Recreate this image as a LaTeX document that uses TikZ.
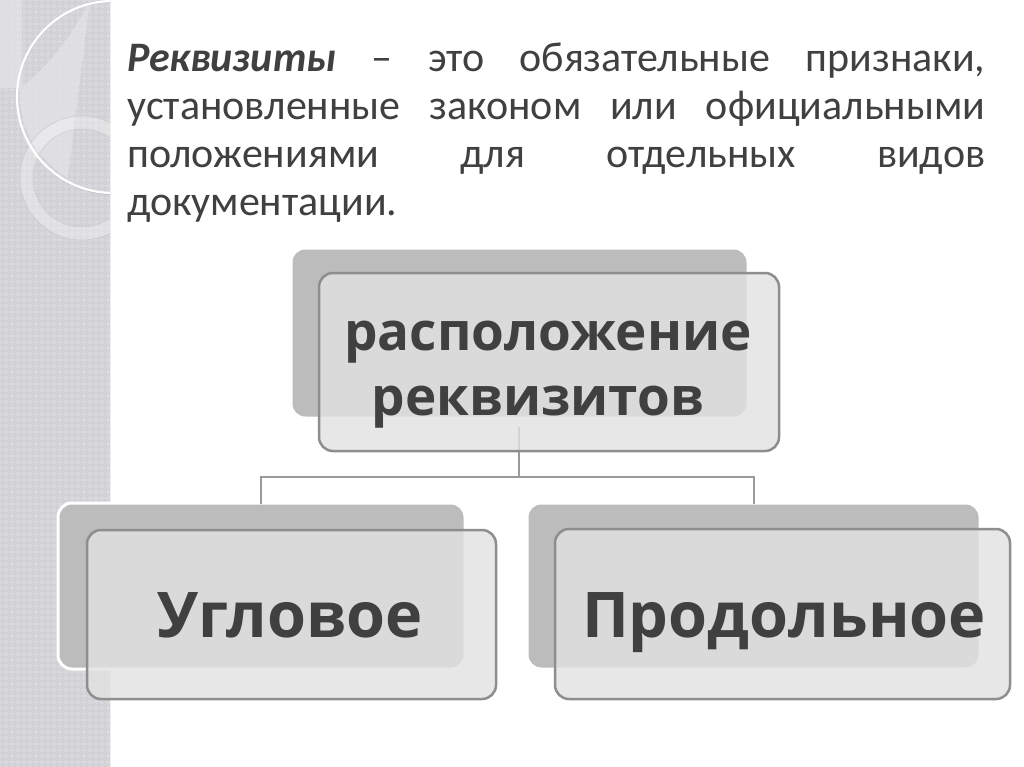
\documentclass[tikz,border=0pt]{standalone}
\usepackage{fontspec}
\setmainfont{Carlito}
\newfontfamily\boxfont{Open Sans}
\definecolor{strip}{HTML}{D8D8DC}
\definecolor{stripdot}{HTML}{CACACE}
\definecolor{striplight}{HTML}{E4E4E7}
\definecolor{txt}{HTML}{404040}
\definecolor{shade}{HTML}{BCBCBC}
\definecolor{front}{HTML}{E2E2E2}
\definecolor{edge}{HTML}{8E8E8E}
\definecolor{conn}{HTML}{9A9A9A}
\tikzset{
  shadowbox/.style={draw=white, line width=3pt, fill=shade, rounded corners=14pt, inner sep=0pt},
  frontbox/.style={draw=edge, line width=2.5pt, fill=front, fill opacity=0.8, rounded corners=14pt, inner sep=0pt},
  boxtext/.style={text=txt, inner sep=0pt, anchor=base, font=\boxfont\bfseries},
  bodyline/.style={text=txt, inner sep=0pt, anchor=base west, font=\fontsize{42}{48}\selectfont},
  connline/.style={draw=conn, line width=2pt},
}
\begin{document}
\begin{tikzpicture}[x=1pt,y=-1pt]
\useasboundingbox (0,0) rectangle (1024,767);
\fill[white] (0,0) rectangle (1024,767);
% left decorative strip
\begin{scope}
\clip (0,0) rectangle (110,767);
\fill[strip] (0,0) rectangle (110,767);
\foreach \i in {0,...,18}{\foreach \j in {0,...,128}{
  \draw[stripdot, line width=0.5pt] (3+\i*6,3+\j*6) circle (1.8);}}
% lighter upper area
\fill[striplight, opacity=0.7] (0,0) rectangle (22,88);
\fill[striplight, opacity=0.7] (90,0) .. controls (70,40) and (45,70) .. (20,88)
   arc[start angle=184, end angle=120, radius=96] -- cycle;
% ring
\fill[even odd rule, fill=white, fill opacity=0.3] (82,178) circle (62) (82,178) circle (49);
\draw[gray!40, line width=0.6pt] (82,178) circle (62) (82,178) circle (49);
% big circle
\draw[gray!50, line width=1pt] (114,98) circle (96.5);
\draw[white, line width=2.2pt] (113,97) circle (96);
\draw[stripdot!80!black, line width=0.6pt] (110.5,0) -- (110.5,767);
\end{scope}
% body text
\node[bodyline] (l1) at (127,72) {\makebox[858pt][s]{\textbf{\textit{Реквизиты}} – это обязательные признаки,}};
\node[bodyline] (l2) at (127,120) {\makebox[858pt][s]{установленные законом или официальными}};
\node[bodyline] (l3) at (127,168) {\makebox[858pt][s]{положениями для отдельных видов}};
\node[bodyline] (l4) at (127,216) {документации.};
% shadow boxes
\node[shadowbox, minimum width=457pt, minimum height=170pt] (topsh) at (519.5,333) {};
\node[shadowbox, minimum width=407pt, minimum height=166pt] (leftsh) at (261.5,586) {};
\node[shadowbox, minimum width=453pt, minimum height=166pt] (rightsh) at (753.5,586) {};
% connectors
\coordinate (c0) at (519,427);
\coordinate (jn) at (519,477);
\coordinate (la) at (261,504);
\coordinate (ra) at (754,504);
\draw[connline] (c0) -- (jn);
\draw[connline] (la) |- (jn) -| (ra);
% front boxes
\node[frontbox, minimum width=460pt, minimum height=178pt] (top) at (549,362) {};
\node[frontbox, minimum width=409pt, minimum height=169pt] (left) at (291.5,614.5) {};
\node[frontbox, minimum width=455pt, minimum height=170pt] (right) at (782.5,614) {};
% box texts
\node[boxtext, font=\boxfont\bfseries\fontsize{53}{64}\selectfont] (t1) at (548,350) {расположение};
\node[boxtext, font=\boxfont\bfseries\fontsize{53}{64}\selectfont] (t2) at (538,415) {реквизитов};
\node[boxtext, font=\boxfont\bfseries\fontsize{63}{72}\selectfont] (t3) at (290,637) {Угловое};
\node[boxtext, font=\boxfont\bfseries\fontsize{63}{72}\selectfont] (t4) at (784,637) {Продольное};
\end{tikzpicture}
\end{document}
